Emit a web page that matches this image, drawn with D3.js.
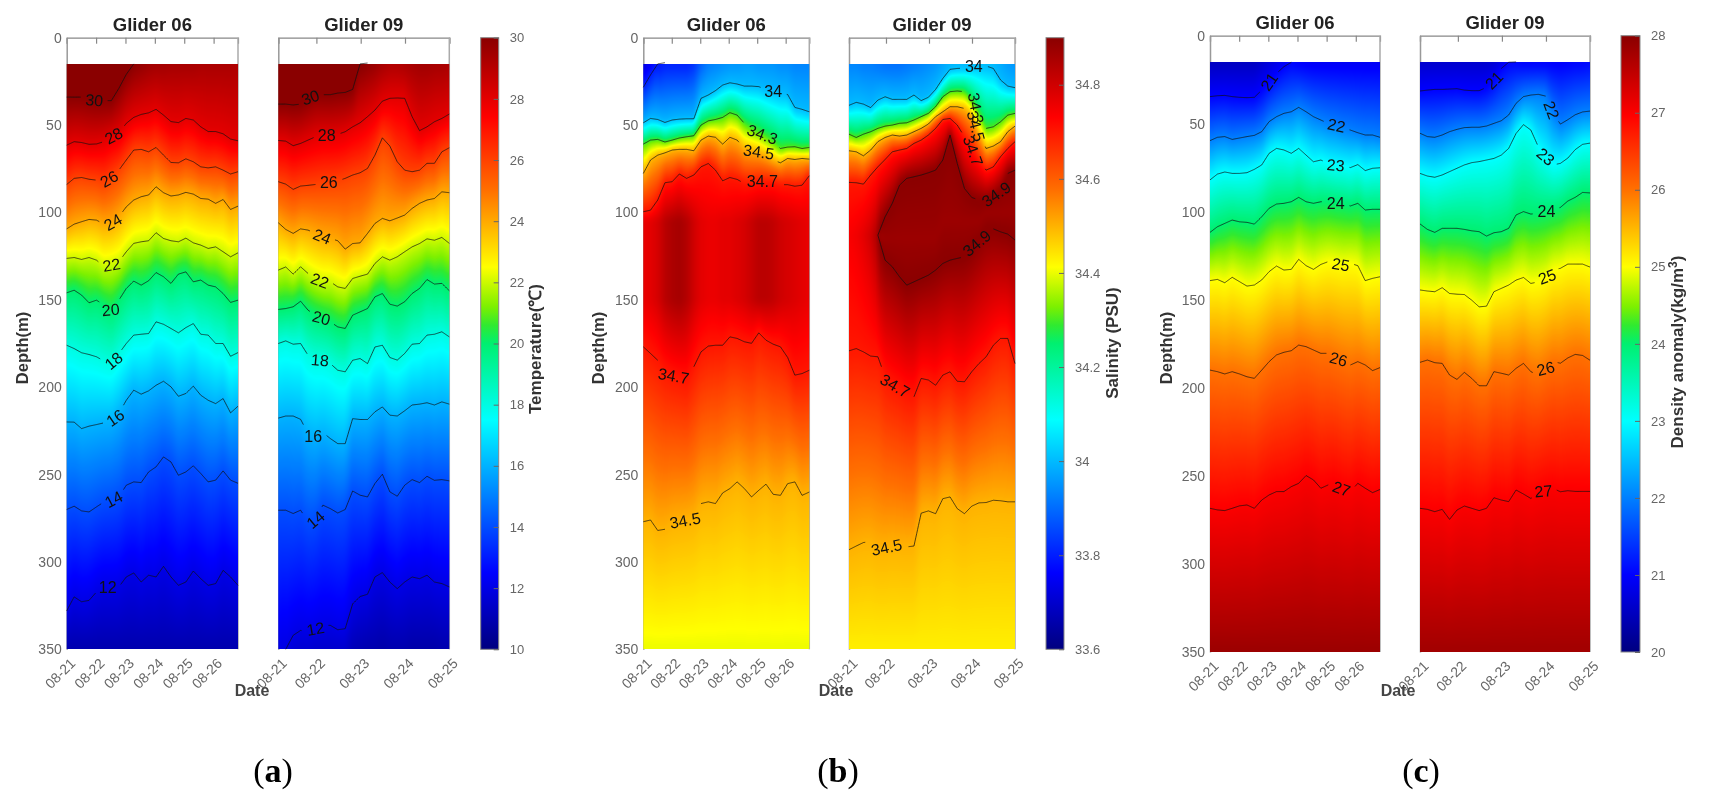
<!DOCTYPE html>
<html>
<head>
<meta charset="utf-8">
<style>
body { margin: 0; background: #fff; }
svg { display: block; font-family: "Liberation Sans", Arial, sans-serif; filter: blur(0.3px); }
</style>
<script src="https://cdn.jsdelivr.net/npm/d3@7"></script>
</head>
<body>
<svg id="chart" width="1710" height="803"></svg>
<script>
// depth (m) of each contour at 24 evenly spaced times

// temperature, glider 06
var t06_30 = [34,34,34,35,36,36,36,29,21,15,null,null,null,null,null,null,null,null,null,null,null,null,null,null];
var t06_28 = [61.5,59.5,60,61,60.8,59.5,56.7,54.8,49,45.6,43.9,43,41,44.3,48,48.6,46.2,47.1,51,53.7,53.7,55,58,59];
var t06_26 = [84,80.5,80,81,81.5,83.4,79.6,75.8,70,64.3,63.9,65.3,62.8,67.2,71.4,71.6,69.3,71,73.9,74.5,73.9,75.8,78,76.7];
var t06_24 = [109.4,106.7,105.3,104,104.4,106.7,106.3,102.5,96.8,92.9,91,90,85.3,88.7,90.6,90,88.5,89.5,92,92.4,94.8,92.6,98.3,96.4];
var t06_22 = [126.3,125.8,126.9,125.8,127.3,131,130,128.2,122.5,117.7,116.8,116.2,111.6,114.9,116.2,116.8,114.7,117.4,118.7,120.6,119.7,122.5,125.4,123.1];
var t06_20 = [146,144.5,147.3,151.7,150.2,153,155.9,150.2,143.5,139.3,141.6,139.1,134.4,136.8,140.6,135.3,134,139.7,138.7,141.6,142.6,146.4,151.5,150.2];
var t06_18 = [176,177.9,180.3,181.3,182.6,185,186.6,180.8,175,170.2,169.7,169.3,162.6,164,166.4,168.9,165.9,163.6,169.7,170.2,175,175,182.3,180.2];
var t06_16 = [219.9,220,223.7,222.3,221.4,220.4,219.9,215,207.5,201.7,204,202.1,198.9,196.6,199.8,205.2,203.6,199.4,204.6,207.5,209.4,206.5,214.7,210.9];
var t06_14 = [270,268.1,270.8,271.4,268.5,265.7,264.7,262.8,256.1,254.2,254.6,248.5,245.6,239.9,242.8,250.4,248.5,245,249.4,254.2,253.2,247.9,253.2,255];
var t06_12 = [328,320,322.8,322,317.2,314.3,314.7,314.3,308.6,306.3,311.5,307.6,308.6,302.5,308.6,313.4,311.5,305.2,309.6,313.4,312.4,304.8,308.6,313.4];
var t06_top = [30.6,30.6,30.6,30.5,30.4,30.3,30.2,30.1,30,30,29.8,29.6,29.5,29.5,29.4,29.4,29.4,29.4,29.3,29.3,29.3,29.3,29.3,29.2];
var t06_bottom = [10.9];

// temperature, glider 09
var t09_30 = [38,38,38.5,38,35,32,32.6,32.6,31.7,31.3,29.6,15,14.5,null,null,null,null,null,null,null,null,null,null,null];
var t09_28 = [58.8,59.2,61.8,60.5,58.6,56.7,55.7,55.7,55.3,53.8,51,48.7,45.2,41.4,36.3,34.7,34.5,34.7,45.2,53.2,51,48.1,46.2,43.7];
var t09_26 = [82.4,83.8,86.8,84.9,84.5,84,83,82.6,81.9,80.5,78.6,77.3,74.8,67.2,57.3,62,71,75.8,76.7,75.8,71.9,71.9,65.3,63];
var t09_24 = [105.9,109.7,112,109.4,110.1,112,113.9,114.9,116.2,121,117.8,117.4,112,106.3,103.4,104.8,103.2,101.5,97.7,94.8,92.9,92,88.2,88.7];
var t09_22 = [133,131.2,135.3,131.1,134.9,137.8,139.7,139.7,142.6,143.5,137.8,136.5,135.3,129.2,125.4,127.3,125.4,122.5,119.7,117.8,115.1,115.9,114.3,117.7];
var t09_20 = [155.5,155,154,150.8,155.9,158.8,160.7,162.6,165.5,166.4,158.8,156.9,155,148.3,146.4,152.5,153.6,151.1,146.4,143.5,138.4,141,140.6,144.8];
var t09_18 = [175,173.5,175.4,175,181.7,184.2,184.6,186.5,190.3,191.2,184.6,183.6,186.5,177,176,183,184.5,180.7,175.4,175,170.2,169.7,168.3,171.2];
var t09_16 = [217.7,216.5,216.5,218.4,226.5,228.4,226,229.4,232.3,232.3,218,218.5,218.5,214.1,211.3,216,216.5,213.5,210.2,209.7,208.9,210.2,208.4,209.7];
var t09_14 = [270.4,270.4,272.3,270.4,277,275.8,267.5,269.5,272,270,259.4,261.8,262.8,255.1,249.8,259.9,262.4,256.1,252.9,254.6,251,253.3,252.9,253.6];
var t09_12 = [null,350,342,339.2,340.1,338.2,336.3,336.3,338.8,338.2,324,319.8,318.5,308.6,306.1,311.5,315.3,311.5,308.6,309.6,307.6,311.5,312.4,314.3];
var t09_top = [30.7,30.7,30.7,30.7,30.6,30.6,30.6,30.6,30.6,30.6,30.5,30.1,29.9,29.7,29.4,29.2,29.2,29.3,29.4,29.5,29.5,29.4,29.4,29.3];
var t09_bottom = [12.05,11.9,11.7,11.6,11.6,11.5,11.5,11.5,11.5,11.5,11.1,11,10.9,10.9,10.8,10.9,10.9,10.9,10.8,10.8,10.8,10.8,10.9,10.9];

// salinity, glider 06
var s06_33_8 = [28.4,21.3,15,14.3,null,null,null,null,null,null,null,null,null,null,null,null,null,null,null,null,null,null,null,null];
var s06_34 = [48.7,46.2,46.8,48.5,47.1,46.6,46.4,46.4,34.7,32.8,30.3,27.1,25.8,26.5,27.7,27.7,28,29.6,30.9,31.9,32.5,39.9,41,42.4];
var s06_34_3 = [60.9,58.6,58.2,59.7,58.6,57.4,56.7,56.1,50,47.6,46.8,45.6,42.9,44.3,49,51.9,53.8,56.7,59.6,63.4,62.6,62.4,63.4,62.8];
var s06_34_5 = [77.7,70,67.2,65.9,64.3,63.9,63.9,64.7,58.6,56.3,57,60.9,57,58.6,63.4,64.3,65.3,67.2,70,71.6,69.1,69.7,69.1,69.5];
var s06_34_7 = [99.6,98.7,92.9,83,82.4,78,80.5,78.6,73.9,72,75.8,81.9,80,81.1,83.4,83.4,82.4,82.4,82.4,84.1,84.1,85,84.4,79];
var s06_34_7b = [176.9,180.7,184.6,190.3,193.1,195,196.9,188.3,179.8,176.5,176,176,171.2,172.1,174,174.9,168.9,173.1,175.4,176.9,183,193.1,192.2,190.3];
var s06_34_5b = [277,276,282,281.3,277.9,277,276,274,266.6,265.6,266.6,260.5,258,254.2,258,262.8,259,255.5,261.3,261.9,255.2,254.2,261.9,260];
var s06_core_upper = [105];
var s06_core_lower = [150];
var s06_core = [34.76,34.77,34.79,34.83,34.85,34.86,34.84,34.8,34.77,34.76,34.76,34.77,34.77,34.78,34.79,34.81,34.83,34.83,34.82,34.8,34.79,34.78,34.77,34.76];
var s06_top = [33.72,33.75,33.78,33.8,33.8,33.8,33.8,33.82,33.88,33.92,33.93,33.94,33.95,33.95,33.96,33.96,33.95,33.95,33.95,33.94,33.94,33.93,33.93,33.93];
var s06_bottom = [34.4];

// salinity, glider 09
var s09_34 = [38.7,37,38,40,35.7,33.8,35.3,35.3,35.3,32.8,36,34.1,29.6,23.3,18.1,17.6,17.4,16.6,16.2,16.2,17.6,24.2,27.7,28.6];
var s09_34_3 = [55.2,57.1,55.2,53.8,51.9,50.6,50,49,48.7,47.1,45.2,43.3,39.5,33.8,30.9,30.5,30.9,35.7,43.3,51.9,51,48.1,44.3,43.3];
var s09_34_5 = [64.7,65.3,67.6,64.3,59.5,57.1,55.7,56.3,55.7,53.8,51.9,49.4,45.2,42.4,39.5,39.5,40.5,44.3,54.8,63.4,62,59.5,53.8,50.6];
var s09_34_7 = [82.8,83,83.8,78.6,73.9,69.7,65.3,64.3,63.4,60.5,58.6,55.7,51.9,46.8,46.2,50,56.7,63.4,70,75.8,73.9,68.1,63.4,59.5];
var s09_34_9 = [null,null,null,null,113,102.5,94.8,84.4,80.5,79.6,78.6,77.3,75.8,70,55.7,72,86.3,91.4,92.9,92.9,91,87.2,77.7,75.8];
var s09_34_9b = [null,null,null,null,113,127.3,131.1,136.8,141.6,139.7,137.8,135.9,133,129.2,127.3,126.3,125.4,121.6,115.8,110.1,109.4,111.1,112.4,115.8];
var s09_34_7b = [179.2,177.9,179.8,182.2,182.6,194,197.9,200.8,204.6,205.5,195,195.9,198.9,193.1,191.2,196.6,196.9,191.2,186.5,182.6,176,172.1,172.1,186.5];
var s09_34_5b = [293,290.9,288.9,288.4,291.9,291.9,290.3,290.9,291.4,290.9,272.1,270.8,272.4,263.8,262.8,269.5,272.4,268.1,266.2,266,264.7,265,265.6,265.6];
var s09_core_depth = [113,113,113,113,113,115,115,115,115,115,115,115,115,105,105,105,105,105,105,100,100,100,100,100];
var s09_core = [34.74,34.75,34.77,34.8,34.86,34.875,34.875,34.875,34.875,34.875,34.875,34.875,34.875,34.875,34.875,34.875,34.875,34.875,34.875,34.875,34.875,34.875,34.875,34.875];
var s09_top = [33.93,33.93,33.92,33.92,33.91,33.9,33.9,33.9,33.91,33.92,33.93,33.94,33.95,33.97,33.99,34,34,34,34,34,34,33.98,33.96,33.95];
var s09_bottom = [34.43];

// density anomaly, glider 06
var d06_21 = [34.6,34.1,33.9,34.6,35,35.2,35,30.9,26.1,21.4,17.6,15.1,null,null,null,null,null,null,null,null,null,null,null,null];
var d06_22 = [59.6,57.7,57.3,58.9,58.1,57.3,56.6,54.5,48.8,46,44.1,43.2,40.7,43.2,46,47.9,49.8,50.7,52.6,53.6,55.1,56.4,56.4,57.7];
var d06_23 = [81.9,78.6,77.4,78.2,78.2,77.8,75.9,73.4,66.8,64,64.9,66.8,64,67.8,71.6,70.6,72.5,73.4,74,74.9,73.2,76.6,75.3,75];
var d06_24 = [111.7,108.5,106.6,104.7,105.7,106,107,102.8,98,95.6,95.2,94.3,91.8,94.3,95.2,94.3,94.3,95.2,95.6,96.7,95.2,99,98.6,98.6];
var d06_25 = [139.1,138.4,140.3,137.2,139.7,142.2,141.6,138.7,134,130.8,133.1,132.7,127,130.6,132.7,129.9,128.3,128.9,130.2,129.3,130.6,139.1,137.8,136.9];
var d06_26 = [189.9,190.8,192.1,190.8,192.1,193.7,194.6,189.9,185.1,181.3,179.8,178.9,175.7,176.6,178.5,180.4,180.4,182.7,185.1,187,185.1,187,190.2,188.5];
var d06_27 = [268.4,269.3,269.7,268.4,267,266.5,268.4,263.7,260.8,258.9,258.9,256.1,254.2,249.8,252.3,257,255.1,254.2,258,258.9,254.2,257,259.5,257.7];
var d06_top = [20.5,20.5,20.5,20.5,20.5,20.5,20.5,20.6,20.7,20.8,20.9,21,20.95,20.92,20.9,20.9,20.9,20.9,20.9,20.9,20.9,20.9,20.9,20.9];
var d06_bottom = [27.85];

// density anomaly, glider 09
var d09_21 = [31.4,30.9,30.5,30.5,30.3,30.1,30.9,31.2,31.2,29.4,25.2,18.6,15.1,14.9,null,null,null,null,null,null,null,null,null,null];
var d09_22 = [55.4,57.3,57.7,56.4,54.5,53.2,52.2,52,52,51.3,49.8,48.3,45,38.4,34.6,33.7,33.3,34.3,44.1,50.2,47.7,44.9,43.3,42.8];
var d09_23 = [78.2,79.7,80.4,79.1,77.2,75.3,73.4,72.1,71.5,70.6,69.7,67.8,64,55.5,50.5,53.6,63,68.7,73.4,72.5,69.5,64.7,61.7,61];
var d09_24 = [106.9,110,111.7,109.4,109.4,109.4,110,110.8,111.3,113.8,111.9,111.3,109.4,101.8,99.9,101.3,100.9,99.9,99,97.5,93.9,91.8,89,89.3];
var d09_25 = [144.4,145,145.4,143.1,146.4,146.8,147,150.2,154,153.6,145.4,143.5,141.6,138.8,137.3,140.7,139.8,137.8,133,132.1,129.7,129.7,129.7,131.4];
var d09_26 = [185.5,184.2,185.7,186.1,192.7,195.2,191.2,194.6,198.8,198.8,190.8,191.7,192.7,188.9,186.1,190.8,192.7,188.9,185.1,186,183,181,181.6,184.3];
var d09_27 = [268.4,269,270.3,269,274.7,269.4,267.1,268.4,269.7,268.4,262.4,263.7,264.6,258,260.3,262.8,260,258,257.1,259,258.4,258.8,258.8,258.8];
var d09_top = [20.6,20.6,20.6,20.6,20.6,20.6,20.6,20.6,20.6,20.6,20.65,20.75,21,21,20.95,20.95,20.95,20.95,20.95,20.95,20.97,21,21,21.05];
var d09_bottom = [27.8];

var depthTicks = [0,50,100,150,200,250,300,350];
var dateLabels06 = ["08-21","08-22","08-23","08-24","08-25","08-26"];
var dateLabels09 = ["08-21","08-22","08-23","08-24","08-25"];
var dayTicks06 = [0,1,2,3,4,5];
var dayTicks09 = [0.14,1,2,3,4];
var dayDomain06 = [0,5.83];
var dayDomain09 = [0.14,4];
var tempTicks = [10,12,14,16,18,20,22,24,26,28,30];
var salTicks = [33.6,33.8,34,34.2,34.4,34.6,34.8];
var denTicks = [20,21,22,23,24,25,26,27,28];

// colormap, jet-like, runs from 0 to 1 across the colorbar
var cmapPos = [0,0.125,0.375,0.5,0.53,0.56,0.625,0.75,0.87,1];
var cmapCol = ["#00007f","#0000ff","#00ffff","#00f070","#30ea30","#7cf000","#ffff00","#ff7000","#ff0000","#8a0000"];
var cmap = d3.scaleLinear().domain(cmapPos).range(cmapCol).clamp(true);

// contour label spots: sample index, angle
function line(level, depth, spot, angle) { return {level: level, depth: depth, spot: spot, angle: angle}; }
function hidden(level, depth) { return {level: level, depth: depth, hidden: true}; }

var panels = [
  {title: "Glider 06", x0: 66.7, x1: 238, y0: 37.7, y1: 649.3, domain: [10,30], top: t06_top, bottom: t06_bottom,
   days: dayDomain06, ticks: dayTicks06, labels: dateLabels06, lines: [
    line(30,t06_30,3.7,5), line(28,t06_28,6.3,-28), line(26,t06_26,5.7,-30), line(24,t06_24,6.2,-30), line(22,t06_22,6,-10),
    line(20,t06_20,5.9,-5), line(18,t06_18,6.3,-40), line(16,t06_16,6.5,-35), line(14,t06_14,6.3,-28), line(12,t06_12,5.5,0)]},
  {title: "Glider 09", x0: 278.3, x1: 449.3, y0: 37.7, y1: 649.3, domain: [10,30], top: t09_top, bottom: t09_bottom,
   days: dayDomain09, ticks: dayTicks09, labels: dateLabels09, lines: [
    line(30,t09_30,4.3,-20), line(28,t09_28,6.5,0), line(26,t09_26,6.8,0), line(24,t09_24,5.9,22), line(22,t09_22,5.6,20),
    line(20,t09_20,5.8,15), line(18,t09_18,5.6,5), line(16,t09_16,4.7,0), line(14,t09_14,5,-40), line(12,t09_12,5,-10)]},
  {title: "Glider 06", x0: 643.3, x1: 809.3, y0: 37.7, y1: 649.3, domain: [33.6,34.9], top: s06_top, bottom: s06_bottom,
   days: dayDomain06, ticks: dayTicks06, labels: dateLabels06, lines: [
    {level: 33.8, depth: s06_33_8}, line(34,s06_34,18,0), line(34.3,s06_34_3,16.5,20), line(34.5,s06_34_5,16,8), line(34.7,s06_34_7,16.5,0),
    hidden(s06_core,s06_core_upper), hidden(s06_core,s06_core_lower), line(34.7,s06_34_7b,4.2,10), line(34.5,s06_34_5b,5.8,-10)]},
  {title: "Glider 09", x0: 849, x1: 1015, y0: 37.7, y1: 649.3, domain: [33.6,34.9], top: s09_top, bottom: s09_bottom,
   days: dayDomain09, ticks: dayTicks09, labels: dateLabels09, lines: [
    line(34,s09_34,17.3,0), line(34.3,s09_34_3,17.6,80), line(34.5,s09_34_5,17.6,75), line(34.7,s09_34_7,17.2,70),
    line(34.9,s09_34_9,20.4,-35), hidden(s09_core,s09_core_depth), line(34.9,s09_34_9b,17.7,-40),
    line(34.7,s09_34_7b,6.4,30), line(34.5,s09_34_5b,5.2,-12)]},
  {title: "Glider 06", x0: 1210, x1: 1380, y0: 35.7, y1: 652, domain: [20,28], top: d06_top, bottom: d06_bottom,
   days: dayDomain06, ticks: dayTicks06, labels: dateLabels06, lines: [
    line(21,d06_21,8,-55), line(22,d06_22,17.1,12), line(23,d06_23,17,5), line(24,d06_24,17,0), line(25,d06_25,17.7,10),
    line(26,d06_26,17.4,15), line(27,d06_27,17.8,20)]},
  {title: "Glider 09", x0: 1420, x1: 1590, y0: 35.7, y1: 652, domain: [20,28], top: d09_top, bottom: d09_bottom,
   days: dayDomain09, ticks: dayTicks09, labels: dateLabels09, lines: [
    line(21,d09_21,10,-45), line(22,d09_22,17.8,70), line(23,d09_23,17,40), line(24,d09_24,17.1,0), line(25,d09_25,17.2,-20),
    line(26,d09_26,17,-15), line(27,d09_27,16.7,-5)]}
];

var bars = [
  {x0: 480.7, x1: 498.7, y0: 37.7, y1: 649.3, domain: [10,30], ticks: tempTicks, label: "Temperature(℃)", labelX: 541, labelY: 349},
  {x0: 1046, x1: 1064, y0: 37.7, y1: 649.3, domain: [33.6,34.9], ticks: salTicks, label: "Salinity (PSU)", labelX: 1118, labelY: 343},
  {x0: 1621, x1: 1640, y0: 35.7, y1: 652, domain: [20,28], ticks: denTicks, label: "Density anomaly(kg/m", labelX: 1683, labelY: 352, sup: "3"}
];

var depthLabels = [{x: 22, y: 348}, {x: 598, y: 348}, {x: 1166, y: 348}];
var dateTitles = [{x: 252}, {x: 836}, {x: 1398}];
var captions = [{x: 273, t: "a"}, {x: 838, t: "b"}, {x: 1421, t: "c"}];

var svg = d3.select("#chart");

// value of a sampled series at fraction f of the panel width
function at(arr, f) {
  if (arr.length == 1) return arr[0];
  var p = f * (arr.length - 1);
  var i = Math.min(Math.floor(p), arr.length - 2);
  if (p == i) return arr[i];
  if (arr[i] == null || arr[i+1] == null) return null;
  return arr[i] + (arr[i+1] - arr[i]) * (p - i);
}

// box blur along one direction, softens the kinks at the contours
function boxBlur(src, w, h, rx, ry) {
  var out = new Float32Array(src.length);
  for (var j = 0; j < h; j++) {
    for (var i = 0; i < w; i++) {
      var sum = 0, n = 0;
      for (var dj = -ry; dj <= ry; dj++) {
        for (var di = -rx; di <= rx; di++) {
          var a = i + di, b = j + dj;
          if (a < 0 || a >= w || b < 0 || b >= h) continue;
          sum += src[b * w + a]; n++;
        }
      }
      out[j * w + i] = sum / n;
    }
  }
  return out;
}

// colours the field between contours, one image per panel
function fieldImage(p, y) {
  var w = Math.round(p.x1 - p.x0);
  var yTop = Math.round(y(15)), yBot = Math.round(y(350));
  var h = yBot - yTop;
  var canvas = document.createElement("canvas");
  canvas.width = w; canvas.height = h;
  var ctx = canvas.getContext("2d");
  var img = ctx.createImageData(w, h);
  var tScale = d3.scaleLinear().domain(p.domain).range([0,1]).clamp(true);
  var lut = d3.range(1025).map(function(k) { return d3.rgb(cmap(k / 1024)); });
  var vals = new Float32Array(w * h);
  for (var cx = 0; cx < w; cx++) {
    var f = (cx + 0.5) / w;
    var prof = [[15, at(p.top, f)], [350, at(p.bottom, f)]];
    p.lines.forEach(function(l) {
      var dep = at(l.depth, f);
      if (dep == null) return;
      var lev = Array.isArray(l.level) ? at(l.level, f) : l.level;
      prof.push([dep, lev]);
    });
    prof.sort(function(a, b) { return a[0] - b[0]; });
    var k = 0;
    for (var ry = 0; ry < h; ry++) {
      var depth = y.invert(yTop + ry + 0.5);
      while (k < prof.length - 2 && prof[k+1][0] < depth) k++;
      var a = prof[k], b = prof[k+1];
      vals[ry * w + cx] = b[0] > a[0] ? a[1] + (b[1] - a[1]) * Math.max(0, Math.min(1, (depth - a[0]) / (b[0] - a[0]))) : a[1];
    }
  }
  vals = boxBlur(boxBlur(vals, w, h, 2, 0), w, h, 0, 4);
  for (var o = 0; o < vals.length; o++) {
    var c = lut[Math.round(tScale(vals[o]) * 1024)];
    img.data[o*4] = c.r; img.data[o*4+1] = c.g; img.data[o*4+2] = c.b; img.data[o*4+3] = 255;
  }
  ctx.putImageData(img, 0, 0);
  return {href: canvas.toDataURL(), yTop: yTop, h: h};
}

panels.forEach(function(p) {
  var x = d3.scaleLinear().domain(p.days).range([p.x0, p.x1]);
  var y = d3.scaleLinear().domain([0,350]).range([p.y0, p.y1]);
  var g = svg.append("g");

  // frame: top axis with inward ticks, left and right sides
  var topAxis = g.append("g").attr("transform", "translate(0," + p.y0 + ")")
    .call(d3.axisBottom(x).tickValues(p.ticks).tickSize(6).tickFormat(""));
  topAxis.selectAll("path,line").attr("stroke", "#888").attr("stroke-width", 1.2);

  var leftAxis = g.append("g").attr("transform", "translate(" + p.x0 + ",0)")
    .call(d3.axisLeft(y).tickValues(depthTicks).tickSize(0).tickPadding(5));
  leftAxis.select("path").attr("stroke", "#999").attr("stroke-width", 1.5);
  leftAxis.selectAll("text").attr("fill", "#666").attr("font-size", 14).attr("font-family", "Liberation Sans");
  if (p.title == "Glider 09") leftAxis.selectAll("text").remove();

  g.append("line").attr("x1", p.x1).attr("x2", p.x1).attr("y1", p.y0).attr("y2", p.y1)
    .attr("stroke", "#aaa").attr("stroke-width", 1.5);

  var botAxis = g.append("g").attr("transform", "translate(0," + p.y1 + ")")
    .call(d3.axisBottom(x).tickValues(p.ticks).tickSize(0).tickFormat(function(d, i) { return p.labels[i]; }));
  botAxis.select("path").remove();
  botAxis.selectAll("text")
    .attr("text-anchor", "end").attr("fill", "#666").attr("font-size", 14).attr("font-family", "Liberation Sans")
    .attr("y", 0).attr("dy", 0)
    .attr("transform", "translate(9,15) rotate(-45)");

  var field = fieldImage(p, y);
  g.append("image").attr("href", field.href)
    .attr("x", p.x0).attr("y", field.yTop)
    .attr("width", p.x1 - p.x0).attr("height", field.h)
    .attr("preserveAspectRatio", "none");

  g.append("text").attr("x", (p.x0 + p.x1) / 2).attr("y", p.y0 - 7)
    .attr("text-anchor", "middle").attr("font-size", 18.5).attr("font-weight", "bold").attr("fill", "#222")
    .text(p.title);

  // contour lines, broken where the label sits
  var fs = d3.range(0, 24 * 8 - 7).map(function(i) { return i / (23 * 8); });
  p.lines.forEach(function(l) {
    if (l.hidden) return;
    var lx, ly, gap = 0;
    var txt = String(l.level);
    if (l.spot != null) {
      var sf = l.spot / 23;
      lx = x(p.days[0] + (p.days[1] - p.days[0]) * sf);
      ly = y(at(l.depth, sf));
      gap = 5 + 4.1 * txt.length;
    }
    function px(f) { return x(p.days[0] + (p.days[1] - p.days[0]) * f); }
    var path = d3.line()
      .defined(function(f) {
        var d = at(l.depth, f);
        if (d == null) return false;
        if (!gap) return true;
        return Math.hypot(px(f) - lx, y(d) - ly) > gap;
      })
      .x(px)
      .y(function(f) { return y(at(l.depth, f)); });
    g.append("path").attr("d", path(fs))
      .attr("fill", "none").attr("stroke", "#111").attr("stroke-width", 0.9).attr("stroke-opacity", 0.8);
    if (l.spot != null) {
      g.append("text").attr("transform", "translate(" + lx + "," + ly + ") rotate(" + l.angle + ")")
        .attr("text-anchor", "middle").attr("dy", "0.36em")
        .attr("font-size", 16).attr("fill", "#111").text(txt);
    }
  });
});

// colorbars
bars.forEach(function(b, i) {
  var y = d3.scaleLinear().domain(b.domain).range([b.y1, b.y0]);
  var grad = svg.append("defs").append("linearGradient").attr("id", "cbar" + i)
    .attr("x1", 0).attr("x2", 0).attr("y1", 1).attr("y2", 0);
  cmapPos.forEach(function(t, k) {
    grad.append("stop").attr("offset", t).attr("stop-color", cmapCol[k]);
  });
  svg.append("rect").attr("x", b.x0).attr("y", b.y0)
    .attr("width", b.x1 - b.x0).attr("height", b.y1 - b.y0)
    .attr("fill", "url(#cbar" + i + ")").attr("stroke", "#888").attr("stroke-width", 1);
  var axis = svg.append("g").attr("transform", "translate(" + b.x1 + ",0)")
    .call(d3.axisRight(y).tickValues(b.ticks).tickSize(-5).tickPadding(11).tickFormat(String));
  axis.select("path").remove();
  axis.selectAll("line").attr("stroke", "#666").attr("stroke-width", 1);
  axis.selectAll("text").attr("fill", "#666").attr("font-size", 13).attr("font-family", "Liberation Sans");
  var lab = svg.append("text").attr("transform", "translate(" + b.labelX + "," + b.labelY + ") rotate(-90)")
    .attr("text-anchor", "middle").attr("font-size", 17).attr("font-weight", "bold").attr("fill", "#333")
    .text(b.label);
  if (b.sup) {
    lab.append("tspan").attr("dy", -6).attr("font-size", 12).text(b.sup);
    lab.append("tspan").attr("dy", 6).text(")");
  }
});

depthLabels.forEach(function(d) {
  svg.append("text").attr("transform", "translate(" + d.x + "," + d.y + ") rotate(-90)")
    .attr("text-anchor", "middle").attr("font-size", 16.5).attr("font-weight", "bold").attr("fill", "#333")
    .attr("dy", "0.35em").text("Depth(m)");
});
dateTitles.forEach(function(d) {
  svg.append("text").attr("x", d.x).attr("y", 696)
    .attr("text-anchor", "middle").attr("font-size", 16).attr("font-weight", "bold").attr("fill", "#444").text("Date");
});
captions.forEach(function(c) {
  var t = svg.append("text").attr("x", c.x).attr("y", 782).attr("text-anchor", "middle")
    .attr("font-family", "Liberation Serif").attr("font-size", 34).attr("fill", "#000");
  t.append("tspan").text("(");
  t.append("tspan").attr("font-weight", "bold").text(c.t);
  t.append("tspan").text(")");
});
</script>
</body>
</html>
